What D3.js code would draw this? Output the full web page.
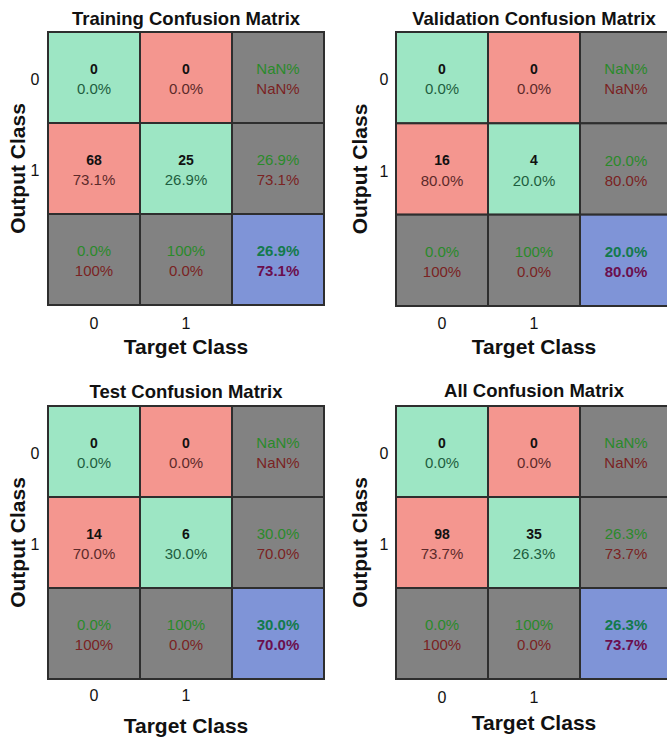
<!DOCTYPE html>
<html>
<head>
<meta charset="utf-8">
<script src="https://cdn.jsdelivr.net/npm/d3@7"></script>
<style>
  html, body { margin: 0; padding: 0; background: #fff; }
  svg { display: block; font-family: "Liberation Sans", Arial, sans-serif; }
</style>
</head>
<body>
<svg id="chart" width="667" height="740"></svg>
<script>
// ---- data ----
const panelTitles = ["Training Confusion Matrix", "Validation Confusion Matrix", "Test Confusion Matrix", "All Confusion Matrix"];
const classLabels = ["0", "1"];
const trainingCounts = [[0, 0], [68, 25]];
const validationCounts = [[0, 0], [16, 4]];
const testCounts = [[0, 0], [14, 6]];
const allCounts = [[0, 0], [98, 35]];
const xAxisLabel = "Target Class";
const yAxisLabel = "Output Class";

const panelCounts = [trainingCounts, validationCounts, testCounts, allCounts];

// ---- layout (pixel frames of each panel's grid) ----
const frames = [
  { x0: 48, x1: 324, y0: 32, y1: 305, titleY: 25, xTickY: 323, xLabY: 346, yTickX: 35, yLabX: 17 },
  { x0: 396, x1: 672, y0: 32, y1: 306, titleY: 25, xTickY: 323, xLabY: 346, yTickX: 384, yLabX: 359 },
  { x0: 48, x1: 324, y0: 406, y1: 679, titleY: 398, xTickY: 695, xLabY: 725, yTickX: 35, yLabX: 17 },
  { x0: 396, x1: 672, y0: 406, y1: 679, titleY: 397, xTickY: 697, xLabY: 722, yTickX: 384, yLabX: 359 }
];

const colors = {
  green: "#9de6c4", red: "#f4968f", gray: "#828282", blue: "#7f94d7",
  border: "#2e2e2e",
  txtGreenCell: "#1d5e40", txtRedCell: "#5c2a2a",
  statGreen: "#2a8a2a", statRed: "#7a2323",
  blueGreen: "#137a4c", bluePurple: "#6b0f4e"
};

function fmtPct(v) {
  if (isNaN(v)) return "NaN%";
  if (Math.abs(v - 100) < 1e-9) return "100%";
  return v.toFixed(1) + "%";
}

const svg = d3.select("#chart");

panelCounts.forEach((counts, p) => {
  const f = frames[p];
  const n = counts.length;
  const idx = d3.range(n + 1);
  const x = d3.scaleBand().domain(idx).range([f.x0, f.x1]);
  const y = d3.scaleBand().domain(idx).range([f.y0, f.y1]);
  const total = d3.sum(counts.flat());
  const g = svg.append("g");

  const cells = [];
  for (let r = 0; r <= n; r++) {
    for (let c = 0; c <= n; c++) {
      let cell = { r, c };
      if (r < n && c < n) {
        const v = counts[r][c];
        cell.type = r === c ? "diag" : "off";
        cell.lines = [{ t: String(v), bold: true }, { t: fmtPct(100 * v / total) }];
      } else if (r < n && c === n) {
        const rs = d3.sum(counts[r]);
        cell.type = "stat";
        cell.lines = [{ t: fmtPct(100 * counts[r][r] / rs) }, { t: fmtPct(100 * (rs - counts[r][r]) / rs) }];
      } else if (r === n && c < n) {
        const cs = d3.sum(counts, row => row[c]);
        cell.type = "stat";
        cell.lines = [{ t: fmtPct(100 * counts[c][c] / cs) }, { t: fmtPct(100 * (cs - counts[c][c]) / cs) }];
      } else {
        const correct = d3.sum(d3.range(n), i => counts[i][i]);
        cell.type = "total";
        cell.lines = [{ t: fmtPct(100 * correct / total) }, { t: fmtPct(100 * (total - correct) / total) }];
      }
      cells.push(cell);
    }
  }

  const fillOf = t => t === "diag" ? colors.green : t === "off" ? colors.red : t === "stat" ? colors.gray : colors.blue;

  g.selectAll("rect.cell").data(cells).join("rect")
    .attr("class", "cell")
    .attr("x", d => x(d.c)).attr("y", d => y(d.r))
    .attr("width", x.bandwidth()).attr("height", y.bandwidth())
    .attr("fill", d => fillOf(d.type))
    .attr("stroke", colors.border).attr("stroke-width", 2);

  cells.forEach(d => {
    const cx = x(d.c) + x.bandwidth() / 2;
    const cy = y(d.r) + y.bandwidth() / 2;
    d.lines.forEach((ln, i) => {
      let fill;
      if (d.type === "diag") fill = i === 0 ? "#111" : colors.txtGreenCell;
      else if (d.type === "off") fill = i === 0 ? "#111" : colors.txtRedCell;
      else if (d.type === "stat") fill = i === 0 ? colors.statGreen : colors.statRed;
      else fill = i === 0 ? colors.blueGreen : colors.bluePurple;
      g.append("text")
        .attr("x", cx).attr("y", cy + (i === 0 ? -9 : 11))
        .attr("text-anchor", "middle").attr("dominant-baseline", "central")
        .attr("font-size", ln.bold ? 14 : 15)
        .attr("font-weight", (ln.bold || d.type === "total") ? "bold" : "normal")
        .attr("fill", fill)
        .text(ln.t);
    });
  });

  g.append("text")
    .attr("x", (f.x0 + f.x1) / 2).attr("y", f.titleY)
    .attr("text-anchor", "middle").attr("font-size", 18.5).attr("font-weight", "bold")
    .attr("fill", "#111").text(panelTitles[p]);

  g.selectAll("text.xt").data(classLabels).join("text")
    .attr("class", "xt")
    .attr("x", (d, i) => x(i) + x.bandwidth() / 2).attr("y", f.xTickY)
    .attr("text-anchor", "middle").attr("dominant-baseline", "central")
    .attr("font-size", 16).attr("fill", "#111").text(d => d);

  g.selectAll("text.yt").data(classLabels).join("text")
    .attr("class", "yt")
    .attr("x", f.yTickX).attr("y", (d, i) => y(i) + y.bandwidth() / 2 + 2)
    .attr("text-anchor", "middle").attr("dominant-baseline", "central")
    .attr("font-size", 16).attr("fill", "#111").text(d => d);

  g.append("text")
    .attr("x", x(1) + x.bandwidth() / 2).attr("y", f.xLabY)
    .attr("text-anchor", "middle").attr("dominant-baseline", "central")
    .attr("font-size", 21).attr("font-weight", "bold").attr("fill", "#111")
    .text(xAxisLabel);

  const yc = (f.y0 + f.y1) / 2;
  g.append("text")
    .attr("transform", `translate(${f.yLabX},${yc}) rotate(-90)`)
    .attr("text-anchor", "middle").attr("dominant-baseline", "central")
    .attr("font-size", 21).attr("font-weight", "bold").attr("fill", "#111")
    .text(yAxisLabel);
});
</script>
</body>
</html>
